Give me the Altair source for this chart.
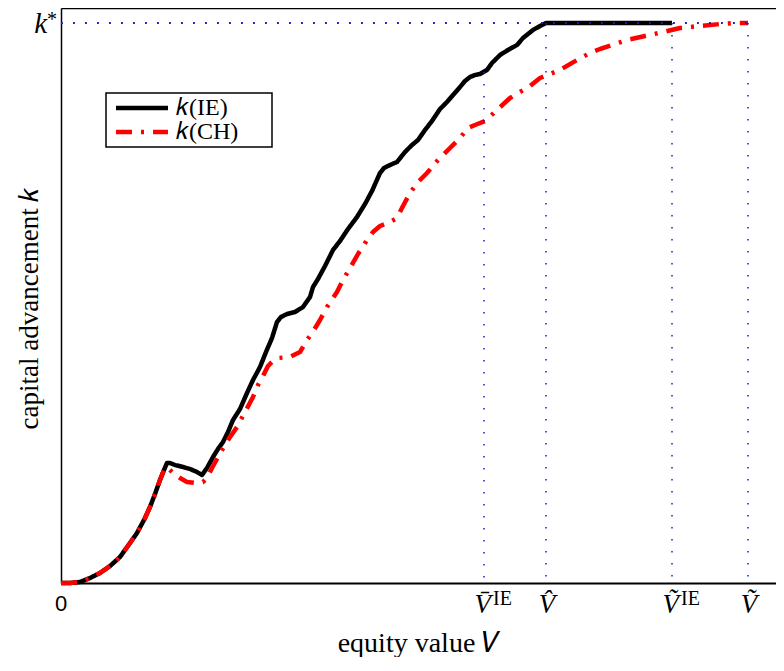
import altair as alt
import pandas as pd

# ---- data ----
ie_v = [0, 0.09, 0.19, 0.29, 0.39, 0.49, 0.59, 0.69, 0.76, 0.84, 0.89, 0.94, 0.99, 1.03, 1.06,
        1.09, 1.14, 1.22, 1.29, 1.36, 1.41, 1.46, 1.52, 1.57, 1.62, 1.67, 1.72, 1.79, 1.86, 1.92,
        1.99, 2.05, 2.11, 2.16, 2.20, 2.26, 2.34, 2.42, 2.49, 2.52, 2.57, 2.64, 2.72, 2.79, 2.87,
        2.96, 3.04, 3.11, 3.19, 3.23, 3.29, 3.36, 3.44, 3.51, 3.57, 3.64, 3.71, 3.79, 3.86, 3.92,
        3.99, 4.04, 4.09, 4.14, 4.19, 4.26, 4.31, 4.39, 4.47, 4.56, 4.62, 4.72, 4.79, 4.85, 6.11]
ie_k = [0, 0.00, 0.01, 0.05, 0.10, 0.17, 0.26, 0.40, 0.50, 0.65, 0.76, 0.89, 1.03, 1.13, 1.20,
        1.20, 1.18, 1.16, 1.14, 1.11, 1.08, 1.15, 1.26, 1.34, 1.41, 1.51, 1.63, 1.74, 1.90, 2.03,
        2.16, 2.31, 2.45, 2.61, 2.66, 2.69, 2.71, 2.76, 2.86, 2.96, 3.04, 3.17, 3.33, 3.42, 3.54,
        3.66, 3.79, 3.92, 4.10, 4.15, 4.18, 4.21, 4.31, 4.38, 4.43, 4.53, 4.62, 4.74, 4.81, 4.88,
        4.96, 5.02, 5.06, 5.08, 5.09, 5.13, 5.20, 5.28, 5.33, 5.38, 5.45, 5.53, 5.57, 5.60, 5.60]

ch_v = [0, 0.09, 0.19, 0.29, 0.39, 0.49, 0.59, 0.69, 0.76, 0.84, 0.89, 0.94, 0.99, 1.03,
        1.06, 1.12, 1.19, 1.26, 1.34, 1.42, 1.46, 1.51, 1.56, 1.61, 1.67, 1.76, 1.84, 1.92, 1.97,
        2.02, 2.07, 2.12, 2.17, 2.29, 2.39, 2.46, 2.53, 2.59, 2.66, 2.76, 2.82, 2.89, 2.97, 3.06,
        3.12, 3.19, 3.29, 3.36, 3.42, 3.49, 3.57, 3.66, 3.77, 3.87, 3.99, 4.07, 4.14, 4.24, 4.36,
        4.49, 4.59, 4.69, 4.79, 4.89, 4.99, 5.16, 5.29, 5.39, 5.51, 5.66, 5.84, 6.02, 6.19, 6.39,
        6.59, 6.74, 6.87]
ch_k = [0, 0.00, 0.01, 0.05, 0.10, 0.17, 0.26, 0.40, 0.50, 0.65, 0.76, 0.89, 1.03, 1.13,
        1.16, 1.10, 1.05, 1.01, 1.00, 1.01, 1.05, 1.15, 1.24, 1.33, 1.43, 1.56, 1.71, 1.86, 1.98,
        2.07, 2.17, 2.22, 2.25, 2.26, 2.31, 2.43, 2.53, 2.63, 2.76, 2.91, 3.03, 3.15, 3.29, 3.43,
        3.51, 3.57, 3.61, 3.65, 3.77, 3.90, 4.01, 4.10, 4.23, 4.33, 4.45, 4.55, 4.58, 4.62, 4.73,
        4.85, 4.91, 4.97, 5.05, 5.09, 5.13, 5.23, 5.30, 5.34, 5.38, 5.43, 5.47, 5.51, 5.55, 5.57,
        5.59, 5.60, 5.60]

series_names = ["\U0001D458(IE)", "\U0001D458(CH)"]
k_star = 5.60
tick_v = [4.23, 4.85, 6.11, 6.87]
tick_base = ["V\u0304", "V\u0302", "\u1E7C", "\u1E7C"]
tick_sup = ["IE", "", "IE", ""]
guide_top = [5.11, 5.60, 5.60, 5.60]

SERIF = "Liberation Serif"

ie = pd.DataFrame({"V": ie_v, "k": ie_k, "series": series_names[0], "order": range(len(ie_v))})
ch = pd.DataFrame({"V": ch_v, "k": ch_k, "series": series_names[1], "order": range(len(ch_v))})
curves = pd.concat([ie, ch], ignore_index=True)
ticks = pd.DataFrame({"V": tick_v, "base": tick_base, "sup": tick_sup, "top": guide_top})

xscale = alt.Scale(domain=[0, 7.15], nice=False, zero=False)
yscale = alt.Scale(domain=[0, 5.75], nice=False, zero=False)

x_main = alt.X("V:Q", scale=xscale, axis=alt.Axis(
    title="equity value \U0001D449", labels=False, ticks=False, grid=False,
    domainColor="black", domainWidth=2, titleFont=SERIF, titleFontSize=28,
    titleFontWeight="normal", titleColor="black", titlePadding=46))
y_main = alt.Y("k:Q", scale=yscale, axis=alt.Axis(
    title="capital advancement \U0001D458", labels=False, ticks=False, grid=False,
    domainColor="black", domainWidth=1.5, titleFont=SERIF, titleFontSize=27,
    titleFontWeight="normal", titleColor="black", titlePadding=18, titleY=300))

# dotted guides
vguides = alt.Chart(ticks).mark_rule(color="#1a1acc", strokeWidth=1.5, strokeDash=[1.5, 10.5]).encode(
    x=alt.X("V:Q", scale=xscale, axis=None),
    y=alt.Y("top:Q", scale=yscale, axis=None),
    y2=alt.datum(0),
)
hguide = alt.Chart(ticks).mark_rule(color="#1a1acc", strokeWidth=1.5, strokeDash=[1.5, 10.5]).encode(
    x=alt.datum(0, scale=xscale, axis=alt.Axis(orient="top", labels=False, ticks=False, grid=False,
                                                 title=None, domainColor="black", domainWidth=1.5)),
    x2=alt.datum(tick_v[-1]),
    y=alt.datum(k_star, scale=yscale, axis=None),
)

# trailing spaces (kept from trimming by a zero-width joiner) widen the legend box
leg = alt.Legend(title=None, labelExpr="datum.label + '\u2002\u2002\u2005\u200d'")
lines = alt.Chart(curves).mark_line(strokeWidth=4.5, strokeCap="butt", strokeJoin="round").encode(
    x=x_main,
    y=y_main,
    color=alt.Color("series:N", scale=alt.Scale(domain=series_names, range=["#000000", "#ff0000"]), legend=leg),
    strokeDash=alt.StrokeDash("series:N", scale=alt.Scale(domain=series_names, range=[[1, 0], [16, 9, 3, 9]]),
                              legend=leg),
    order="order:Q",
)

# tick labels
base_sup = alt.Chart(ticks).transform_filter("datum.sup != ''").mark_text(
    font=SERIF, fontStyle="italic", fontSize=27, align="right", dx=7, dy=30, baseline="alphabetic", color="black"
).encode(x=alt.X("V:Q", scale=xscale, axis=None), y=alt.datum(0, scale=yscale, axis=None), text="base:N")
base_plain = alt.Chart(ticks).transform_filter("datum.sup == ''").mark_text(
    font=SERIF, fontStyle="italic", fontSize=27, align="center", dx=1, dy=30, baseline="alphabetic", color="black"
).encode(x=alt.X("V:Q", scale=xscale, axis=None), y=alt.datum(0, scale=yscale, axis=None), text="base:N")
sup = alt.Chart(ticks).transform_filter("datum.sup != ''").mark_text(
    font=SERIF, fontSize=20, align="left", dx=9, dy=22, baseline="alphabetic", color="black"
).encode(x=alt.X("V:Q", scale=xscale, axis=None), y=alt.datum(0, scale=yscale, axis=None), text="sup:N")
zero = alt.Chart(ticks).transform_filter("datum.V == %r" % tick_v[0]).mark_text(
    font="Liberation Sans", fontSize=22, align="center", dy=28, baseline="alphabetic", color="black"
).encode(x=alt.datum(0, scale=xscale, axis=None), y=alt.datum(0, scale=yscale, axis=None), text=alt.value("0"))
kl = alt.Chart(ticks).transform_filter("datum.V == %r" % tick_v[0]).mark_text(
    font=SERIF, fontStyle="italic", fontSize=29, align="right", dx=-14, dy=10, baseline="alphabetic", color="black"
).encode(x=alt.datum(0, scale=xscale, axis=None), y=alt.datum(k_star, scale=yscale, axis=None), text=alt.value("k"))
ks = alt.Chart(ticks).transform_filter("datum.V == %r" % tick_v[0]).mark_text(
    font=SERIF, fontSize=20, align="left", dx=-14, dy=3, baseline="alphabetic", color="black"
).encode(x=alt.datum(0, scale=xscale, axis=None), y=alt.datum(k_star, scale=yscale, axis=None), text=alt.value("*"))

chart = alt.layer(lines, vguides, hguide, base_sup, base_plain, sup, zero, kl, ks).resolve_axis(
    x="independent", y="independent"
).properties(
    width=715, height=575,
    autosize=alt.AutoSizeParams(type="none"),
    padding={"left": 53, "top": 0, "right": 0, "bottom": 74},
).configure_view(stroke="transparent").configure_legend(
    orient="none", legendX=45, legendY=85,
    strokeColor="black", fillColor="white", padding=3, symbolOffset=21,
    symbolType="M-3,0H3", symbolSize=300, symbolStrokeWidth=4.5,
    labelFont=SERIF, labelFontSize=24, labelColor="black", labelOffset=22, rowPadding=0,
    cornerRadius=0, strokeWidth=1.5, labelLimit=300,
)

chart.save("out.html", embed_options={"renderer": "svg", "actions": False})
